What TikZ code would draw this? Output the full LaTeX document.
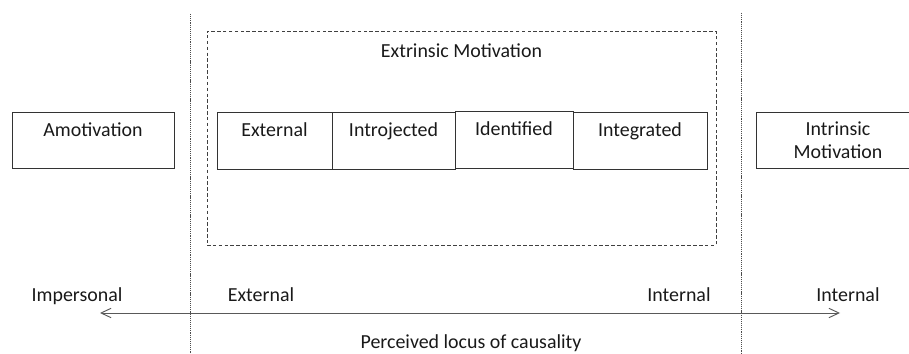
\documentclass[tikz,border=0pt]{standalone}
\usepackage{fontspec}
\setmainfont{Carlito}
\usetikzlibrary{arrows.meta, positioning}

\begin{document}
\begin{tikzpicture}[
    font=\fontsize{17}{20}\selectfont, text=black!90,
    reg_block/.style={rectangle, draw=black!80, line width=0.8pt, outer sep=0pt, inner ysep=0.3cm, text height=0.45cm, text depth=0.66cm, minimum height=1.71cm},
    side_block/.style={rectangle, draw=black!80, line width=0.8pt, outer sep=0pt, align=center, minimum height=1.68cm},
    locus_label/.style={anchor=base},
    locus_flow/.style={{Straight Barb[length=8.5pt, width=8pt]}-{Straight Barb[length=8.5pt, width=8pt]}, line width=0.8pt, black!65},
    divider/.style={black!70, line width=0.7pt, dash pattern=on 1pt off 0.8pt},
    mycontainer/.style={rectangle, draw=black!75, line width=0.8pt, dash pattern=on 3pt off 2pt, minimum width=15.27cm, minimum height=6.42cm}
]
    \useasboundingbox (0,0) rectangle (27.27,10.62);

    % Dividers
    \coordinate (divL top) at (5.70,10.20);
    \coordinate (divL bot) at (5.70,0);
    \coordinate (divR top) at (22.23,10.23);
    \coordinate (divR bot) at (22.23,0);
    \draw[divider] (divL top) -- (divL bot);
    \draw[divider] (divR top) -- (divR bot);

    % Extrinsic Motivation
    \node[mycontainer] (mycontainer) at (13.845,6.48) {};
    \node[below=0.28cm of mycontainer.north] (extr) {Extrinsic Motivation};

    \node[reg_block, anchor=west, minimum width=3.45cm] (ext1) at (6.51,6.405) {External};
    \node[reg_block, right=0pt of ext1, minimum width=3.69cm] (ext2) {Introjected};
    \node[reg_block, right=0pt of ext2, minimum width=3.54cm, yshift=0.03cm] (ext3) {Identified};
    \node[reg_block, right=0pt of ext2, xshift=3.54cm, minimum width=4.02cm] (ext4) {Integrated};

    % Amotivation and Intrinsic Motivation
    \node[reg_block, minimum width=4.86cm, minimum height=1.68cm, text depth=0.63cm] (amot) at (2.79,6.42) {Amotivation};
    \node[side_block, anchor=west, minimum width=4.92cm] (intr) at (22.68,6.42) {Intrinsic\\Motivation};

    % Locus of causality
    \node[locus_label] (imp) at (2.31,1.56) {Impersonal};
    \node[locus_label] (extL) at (7.83,1.56) {External};
    \node[locus_label] (intL) at (20.37,1.56) {Internal};
    \node[locus_label] (intR) at (25.44,1.56) {Internal};

    \coordinate (locus left) at (3.0,1.23);
    \coordinate (locus right) at (25.2,1.23);
    \draw[locus_flow] (locus left) -- (locus right);
    \node[locus_label] (locus) at (14.13,0.17) {Perceived locus of causality};

\end{tikzpicture}
\end{document}
